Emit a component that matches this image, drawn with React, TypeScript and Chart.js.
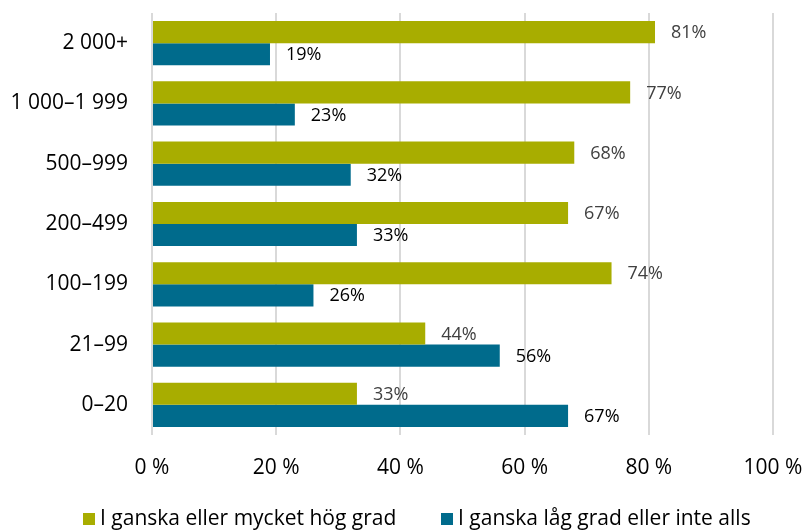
import React, { useEffect, useRef } from "react";
import { Chart, registerables } from "chart.js";

Chart.register(...registerables);

const categories = ["2 000+", "1 000–1 999", "500–999", "200–499", "100–199", "21–99", "0–20"];
const highValues = [81, 77, 68, 67, 74, 44, 33];
const lowValues = [19, 23, 32, 33, 26, 56, 67];
const seriesNames = ["I ganska eller mycket hög grad", "I ganska låg grad eller inte alls"];
const xTicks = [0, 20, 40, 60, 80, 100];

const GREEN = "#A8AD00";
const BLUE = "#006B8C";
const FONT = "'Open Sans', sans-serif";

const labelPlugin = {
  id: "barLabels",
  afterDatasetsDraw(chart: any) {
    const ctx = chart.ctx;
    ctx.save();
    ctx.font = `18px ${FONT}`;
    ctx.textBaseline = "middle";
    ctx.textAlign = "left";
    chart.data.datasets.forEach((ds: any, i: number) => {
      const meta = chart.getDatasetMeta(i);
      ctx.fillStyle = i === 0 ? "#404040" : "#000000";
      meta.data.forEach((bar: any, j: number) => {
        ctx.fillText(ds.data[j] + "%", bar.x + 16, bar.y + 1);
      });
    });
    ctx.restore();
  },
};

const legendPlugin = {
  id: "customLegend",
  afterDraw(chart: any) {
    const ctx = chart.ctx;
    ctx.save();
    ctx.font = `21px ${FONT}`;
    ctx.textBaseline = "middle";
    ctx.textAlign = "left";
    const y = 519;
    const starts = [83, 441];
    chart.data.datasets.forEach((ds: any, i: number) => {
      const x = starts[i];
      ctx.fillStyle = ds.backgroundColor;
      ctx.fillRect(x, y - 6, 12, 12);
      ctx.fillStyle = "#000";
      ctx.fillText(ds.label, x + 17, y);
    });
    ctx.restore();
  },
};

export default function App() {
  const ref = useRef<HTMLCanvasElement>(null);
  useEffect(() => {
    if (!ref.current) return;
    const chart = new Chart(ref.current, {
      type: "bar",
      data: {
        labels: categories,
        datasets: [
          {
            label: seriesNames[0],
            data: highValues,
            backgroundColor: GREEN,
            categoryPercentage: 0.733,
            barPercentage: 1,
          },
          {
            label: seriesNames[1],
            data: lowValues,
            backgroundColor: BLUE,
            categoryPercentage: 0.733,
            barPercentage: 1,
          },
        ],
      },
      options: {
        indexAxis: "y",
        animation: false,
        responsive: true,
        maintainAspectRatio: false,
        layout: { padding: { top: 13, right: 31, bottom: 0, left: 0 } },
        scales: {
          x: {
            min: 0,
            max: 100,
            afterBuildTicks: (s: any) => {
              s.ticks = xTicks.map((v) => ({ value: v }));
            },
            afterFit: (s: any) => {
              s.height = 95;
              s.paddingLeft = 0;
              s.paddingRight = 0;
            },
            border: { display: false },
            grid: { color: "#D9D9D9", lineWidth: 2, drawTicks: false },
            ticks: {
              padding: 20,
              color: "#000",
              font: { family: FONT, size: 21 },
              callback: (v: any) => v + " %",
            },
          },
          y: {
            afterFit: (s: any) => {
              s.width = 152;
              s.paddingTop = 0;
              s.paddingBottom = 0;
            },
            border: { display: false },
            grid: { display: false, drawTicks: false },
            ticks: {
              padding: 24,
              color: "#000",
              font: { family: FONT, size: 21 },
            },
          },
        },
        plugins: {
          legend: { display: false },
          tooltip: { enabled: false },
        },
      },
      plugins: [labelPlugin, legendPlugin],
    });
    return () => chart.destroy();
  }, []);
  return (
    <div style={{ position: "fixed", left: 0, top: 0, width: 804, height: 530, background: "#fff" }}>
      <canvas ref={ref} />
    </div>
  );
}
